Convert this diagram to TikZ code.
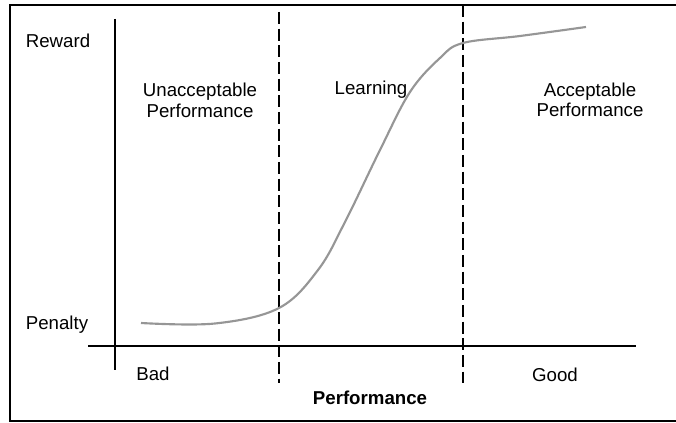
\documentclass[tikz,border=0pt]{standalone}
\usepackage{fontspec}
\setmainfont{Liberation Sans}

\tikzset{every picture/.style={line width=0.75pt}}
\tikzset{
  axisline/.style={line width=2.2pt},
  zoneline/.style={line width=1.6pt, dash pattern=on 9pt off 3.5pt},
  lbl/.style={inner sep=0pt, font=\fontsize{14}{15.5}\selectfont, align=center},
}

\begin{document}
\begin{tikzpicture}[x=0.75pt,y=0.75pt,yscale=-1,xscale=1]
\useasboundingbox (0,0) rectangle (676,423);

%Frame (no right side)
\draw [line width=1pt] (676,5) -- (10,5) -- (10,421) -- (676,421) ;

%Axes
\coordinate (ytop) at (115,19);
\coordinate (ybot) at (115,370);
\coordinate (xleft) at (88,346);
\coordinate (xright) at (636,346);
\draw [axisline] (ytop) -- (ybot) ;
\draw [axisline] (xleft) -- (xright) ;

%Zone borders
\coordinate (d1top) at (279,12);
\coordinate (d1bot) at (279,383);
\coordinate (d2top) at (463,5);
\coordinate (d2bot) at (463,383);
\draw [zoneline] (d1top) -- (d1bot) ;
\draw [zoneline] (d2top) -- (d2bot) ;

%Curve
\draw [color={rgb, 255:red, 150; green, 150; blue, 150 }, line width=1.6pt]
  plot [smooth, tension=0.6] coordinates {(141,323) (215,323.5) (279,308) (318,270) (345,222) (380,150) (410,92) (440,58) (463,43) (520,36) (586,27)} ;

% Text Node
\node (reward) [lbl, anchor=base] at (58,48) {Reward};
% Text Node
\node (penalty) [lbl, anchor=base] at (57,330) {Penalty};
% Text Node
\node (unacc) [lbl] at (200,100.5) {Unacceptable\\Performance};
% Text Node
\node (learn) [lbl, anchor=base] at (371,95) {Learning};
% Text Node
\node (acc) [lbl] at (590,100) {Acceptable\\Performance};
% Text Node
\node (bad) [lbl, anchor=base] at (153,381) {Bad};
% Text Node
\node (good) [lbl, anchor=base] at (555,382) {Good};
% Text Node
\node (perf) [lbl, anchor=base, font=\fontsize{14}{15.5}\selectfont\bfseries] at (370,405) {Performance};
\end{tikzpicture}
\end{document}
